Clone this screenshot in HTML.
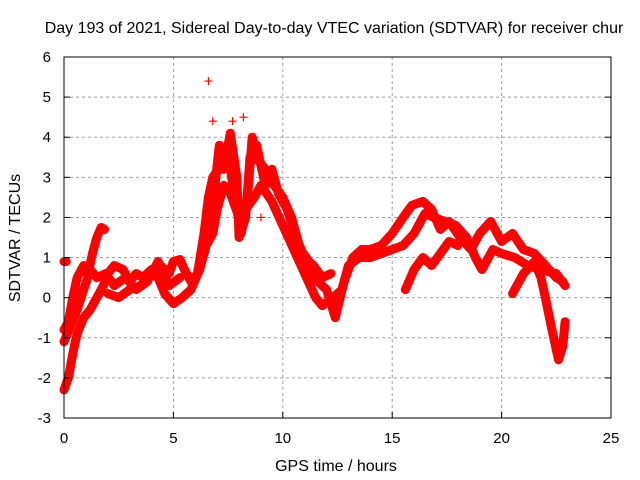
<!DOCTYPE html>
<html><head><meta charset="utf-8"><style>
body{margin:0;background:#fff}
svg{display:block;font-family:"Liberation Sans",sans-serif}
</style></head><body>
<svg id="chart" width="640" height="480">
<text x="334" y="33" font-size="16" text-anchor="middle">Day 193 of 2021, Sidereal Day-to-day VTEC variation (SDTVAR) for receiver chur</text>
<text x="336" y="471" font-size="16" text-anchor="middle">GPS time / hours</text>
<text transform="translate(20,238) rotate(-90)" font-size="16" text-anchor="middle">SDTVAR / TECUs</text>
<g id="grid"></g><g id="marks"></g><g id="axes"></g>
</svg>
<script>
const xTicks=[0,5,10,15,20,25];
const yTicks=[-3,-2,-1,0,1,2,3,4,5,6];
const track1=[[0,-0.8],[0.2,-0.6],[0.4,0],[0.6,0.5],[0.9,0.8],[1.1,0.6],[1.3,1.1],[1.5,1.5],[1.7,1.75],[1.85,1.7]];
const track2=[[0,-2.3],[0.2,-2.0],[0.4,-1.4],[0.6,-0.9],[0.9,-0.5],[1.2,-0.3],[1.5,0],[1.8,0.3],[2.0,0.6],[2.3,0.8],[2.7,0.7],[3.0,0.4],[3.3,0.6],[3.6,0.5],[4.0,0.7],[4.4,0.8],[4.8,0.6],[5.0,0.9],[5.3,0.95],[5.5,0.7],[5.8,0.4],[6.1,0.6],[6.4,1.6],[6.6,2.5],[6.8,3.0],[7.2,3.3],[7.5,3.6],[7.8,2.5],[8.1,1.6],[8.4,2.6],[8.6,4.0],[8.9,3.4],[9.2,3.2],[9.6,2.8],[10.0,2.5],[10.4,2.0],[10.8,1.2],[11.2,0.9],[11.6,0.4],[12.0,0.2],[12.4,-0.5],[12.8,0.4],[13.2,1.0],[13.6,1.2],[14.0,1.2],[14.5,1.3],[15.0,1.6],[15.5,2.0],[15.9,2.3],[16.4,2.4],[16.8,2.2],[17.2,1.7],[17.6,1.9],[18.1,1.5],[18.6,1.2],[19.0,1.6],[19.5,1.9],[20.0,1.4],[20.5,1.6],[21.0,1.2],[21.5,1.1],[22.0,0.8],[22.5,0.5],[22.8,0.4]];
const track3=[[2.0,0.1],[2.5,0.0],[3.0,0.2],[3.5,0.3],[4.0,0.6],[4.3,0.5],[4.6,0.1],[5.0,-0.15],[5.4,0.0],[5.8,0.2],[6.2,0.7],[6.5,1.3],[6.8,1.6],[7.0,2.2],[7.3,2.8],[7.6,2.6],[8.0,2.0],[8.3,2.2],[8.7,2.5],[9.0,2.8],[9.5,2.4],[10.0,1.8],[10.5,1.2],[11.0,0.6],[11.5,0.0],[11.8,-0.2],[12.3,0.0],[12.7,0.2],[13.0,0.8],[13.5,1.0],[14.0,1.0],[14.5,1.1],[15.0,1.2],[15.5,1.3],[16.0,1.6],[16.5,2.1],[16.9,2.0],[17.4,1.9],[17.9,1.8],[18.4,1.5],[18.8,1.0],[19.1,0.7],[19.6,1.2],[20.0,1.1],[20.6,1.0],[21.2,0.8],[21.8,0.7],[22.5,0.6],[22.9,0.3]];
const track4=[[20.5,0.1],[21.0,0.6],[21.5,0.9],[21.8,0.5],[22.0,0],[22.3,-0.8],[22.6,-1.55],[22.8,-1.2],[22.9,-0.6]];
const track5=[[15.6,0.2],[16.0,0.7],[16.4,1.0],[16.8,0.8],[17.2,1.1],[17.6,1.4],[18.0,1.3]];
const track6=[[0,0.9],[0.1,0.9]];
const track7=[[6.3,1.0],[6.6,2.0],[6.9,2.8],[7.1,3.8],[7.3,3.2],[7.6,4.1],[7.9,3.0],[8.0,1.5],[8.3,2.0],[8.5,3.5],[8.8,3.8],[9.2,2.8],[9.5,3.2],[9.8,2.6],[10.2,2.2],[10.6,1.5],[11.0,1.0],[11.4,0.8],[11.8,0.5],[12.2,0.6]];
const track8=[[0,-1.1],[0.3,-0.7],[0.6,-0.3],[0.9,0.2],[1.2,0.7],[1.5,0.5],[1.9,0.6],[2.3,0.3],[2.8,0.5],[3.3,0.2],[3.8,0.4],[4.3,0.9],[4.8,0.3],[5.3,0.5]];
const outliers=[[6.6,5.4],[6.8,4.4],[8.2,4.5],[7.7,4.4],[9.0,2.0]];
const tracks=[track1,track2,track3,track4,track5,track6,track7,track8];

const X0=64,X1=611,Y0=418,Y1=57;
const xs=t=>X0+(t-0)/(25-0)*(X1-X0);
const ys=v=>Y0-(v+3)/9*(Y0-Y1);
const NS="http://www.w3.org/2000/svg";
function mk(tag,parent,attrs){const e=document.createElementNS(NS,tag);for(const k in attrs)e.setAttribute(k,attrs[k]);parent.appendChild(e);return e;}
const grid=document.getElementById('grid'),marks=document.getElementById('marks'),axes=document.getElementById('axes');
xTicks.forEach(t=>{
  if(t>0&&t<25){const l=mk('line',grid,{x1:xs(t),x2:xs(t),y1:Y1,y2:Y0,stroke:'#a0a0a0','stroke-dasharray':'3,3'});
  
  }
  const tk=mk('line',axes,{x1:xs(t),x2:xs(t),y1:Y0,y2:Y0-6,stroke:'#000'});
  
  
  const tx=mk('text',axes,{x:xs(t),y:443,'font-size':15,'text-anchor':'middle'});tx.textContent=t;
  
  
});
yTicks.forEach(v=>{
  if(v>-3&&v<6){const l=mk('line',grid,{x1:X0,x2:X1,y1:ys(v),y2:ys(v),stroke:'#a0a0a0','stroke-dasharray':'3,3'});
  
  }
  const tk=mk('line',axes,{x1:X0,x2:X0+6,y1:ys(v),y2:ys(v),stroke:'#000'});
  
  
  const tk2=mk('line',axes,{x1:X1,x2:X1-6,y1:ys(v),y2:ys(v),stroke:'#000'});
  
  
  const tx=mk('text',axes,{x:51,y:ys(v)+5,'font-size':15,'text-anchor':'end'});tx.textContent=v;
  
  
});
const frame=mk('rect',axes,{x:X0,y:Y1,width:X1-X0,height:Y0-Y1,fill:'none',stroke:'#000'});


tracks.forEach(tr=>{
  const p=mk('polyline',marks,{points:tr.map(d=>xs(d[0])+','+ys(d[1])).join(' '),fill:'none',stroke:'#ff0000','stroke-width':9,'stroke-linejoin':'round','stroke-linecap':'round'});
  
  
});
tracks.concat([outliers]).forEach(tr=>tr.forEach(d=>{
  const x=xs(d[0]),y=ys(d[1]);
  const m=mk('path',marks,{d:`M${x-4},${y}H${x+4}M${x},${y-4}V${y+4}`,stroke:'#ff0000','stroke-width':1.2});
  
  
}));
</script>
</body></html>
